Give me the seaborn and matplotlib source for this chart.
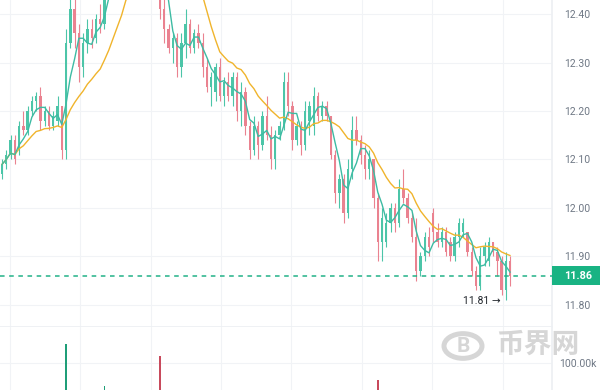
import matplotlib
matplotlib.use("Agg")
import matplotlib.pyplot as plt
import matplotlib.transforms as mtransforms
from matplotlib.patches import Rectangle, Circle
import numpy as np
import pandas as pd
import seaborn as sns

# OHLC per candle (the part above 12.43 is outside the visible window)
opens = [12.07, 12.09, 12.11, 12.14, 12.12, 12.17, 12.16, 12.20, 12.22, 12.23,
         12.18, 12.20, 12.17, 12.18, 12.21, 12.12, 12.34, 12.41, 12.36, 12.29,
         12.34, 12.37, 12.35, 12.39, 12.38, 12.46, 12.50, 12.53, 12.55, 12.57,
         12.58, 12.62, 12.66, 12.70, 12.72, 12.74, 12.70, 12.60, 12.41, 12.37,
         12.33, 12.35, 12.29, 12.34, 12.38, 12.33, 12.36, 12.34, 12.29, 12.25,
         12.24, 12.29, 12.23, 12.26, 12.23, 12.27, 12.20, 12.24, 12.17, 12.12,
         12.17, 12.13, 12.19, 12.15, 12.10, 12.15, 12.17, 12.26, 12.21, 12.14,
         12.17, 12.13, 12.18, 12.17, 12.23, 12.19, 12.21, 12.19, 12.11, 12.03,
         12.06, 11.99, 12.08, 12.16, 12.14, 12.11, 12.08, 12.10, 12.02, 11.93,
         11.93, 11.97, 12.00, 11.97, 12.04, 12.02, 11.98, 11.94, 11.87, 11.90,
         11.94, 11.99, 11.95, 11.93, 11.95, 11.93, 11.90, 11.94, 11.95, 11.95,
         11.91, 11.87, 11.84, 11.90, 11.89, 11.93, 11.91, 11.89, 11.83, 11.89]
highs = [12.10, 12.12, 12.15, 12.15, 12.18, 12.20, 12.21, 12.23, 12.24, 12.25,
         12.21, 12.21, 12.20, 12.23, 12.21, 12.37, 12.44, 12.45, 12.38, 12.36,
         12.39, 12.39, 12.40, 12.42, 12.48, 12.53, 12.56, 12.58, 12.60, 12.61,
         12.65, 12.69, 12.73, 12.75, 12.78, 12.76, 12.71, 12.62, 12.43, 12.38,
         12.36, 12.36, 12.36, 12.41, 12.39, 12.37, 12.38, 12.36, 12.31, 12.28,
         12.30, 12.31, 12.27, 12.28, 12.28, 12.28, 12.26, 12.25, 12.18, 12.19,
         12.18, 12.20, 12.23, 12.17, 12.16, 12.18, 12.28, 12.28, 12.22, 12.18,
         12.18, 12.22, 12.22, 12.25, 12.24, 12.22, 12.22, 12.19, 12.12, 12.07,
         12.07, 12.10, 12.19, 12.19, 12.15, 12.13, 12.12, 12.10, 12.03, 12.00,
         11.99, 12.01, 12.01, 12.06, 12.08, 12.03, 11.99, 11.98, 11.91, 11.95,
         11.96, 12.00, 11.97, 11.96, 11.96, 11.94, 11.95, 11.98, 11.98, 11.95,
         11.92, 11.88, 11.92, 11.93, 11.94, 11.93, 11.92, 11.90, 11.91, 11.90]
lows = [12.06, 12.08, 12.10, 12.09, 12.11, 12.15, 12.15, 12.19, 12.20, 12.16,
        12.17, 12.16, 12.16, 12.17, 12.10, 12.10, 12.33, 12.33, 12.26, 12.27,
        12.32, 12.33, 12.34, 12.36, 12.37, 12.45, 12.48, 12.50, 12.52, 12.54,
        12.56, 12.60, 12.64, 12.67, 12.70, 12.66, 12.57, 12.39, 12.34, 12.32,
        12.30, 12.27, 12.27, 12.31, 12.32, 12.32, 12.33, 12.27, 12.24, 12.21,
        12.22, 12.22, 12.21, 12.22, 12.21, 12.18, 12.17, 12.15, 12.10, 12.11,
        12.10, 12.12, 12.14, 12.08, 12.08, 12.14, 12.16, 12.19, 12.12, 12.13,
        12.11, 12.12, 12.15, 12.15, 12.18, 12.18, 12.18, 12.10, 12.01, 12.00,
        11.97, 11.98, 12.06, 12.13, 12.09, 12.06, 12.06, 12.00, 11.89, 11.89,
        11.92, 11.95, 11.95, 11.96, 12.01, 11.97, 11.93, 11.85, 11.86, 11.89,
        11.90, 11.93, 11.92, 11.92, 11.90, 11.89, 11.89, 11.92, 11.94, 11.90,
        11.86, 11.83, 11.83, 11.88, 11.88, 11.90, 11.86, 11.82, 11.81, 11.84]
closes = [12.09, 12.11, 12.14, 12.10, 12.17, 12.16, 12.20, 12.22, 12.23, 12.18,
          12.20, 12.17, 12.19, 12.21, 12.12, 12.34, 12.41, 12.36, 12.29, 12.34,
          12.37, 12.35, 12.39, 12.38, 12.46, 12.50, 12.53, 12.55, 12.57, 12.58,
          12.62, 12.66, 12.70, 12.72, 12.74, 12.70, 12.60, 12.41, 12.37, 12.33,
          12.35, 12.29, 12.34, 12.38, 12.33, 12.36, 12.34, 12.29, 12.25, 12.27,
          12.29, 12.23, 12.26, 12.23, 12.27, 12.20, 12.24, 12.17, 12.12, 12.17,
          12.13, 12.19, 12.15, 12.10, 12.15, 12.17, 12.26, 12.21, 12.14, 12.17,
          12.13, 12.20, 12.21, 12.23, 12.19, 12.21, 12.19, 12.11, 12.03, 12.06,
          11.99, 12.08, 12.16, 12.14, 12.11, 12.08, 12.10, 12.02, 11.93, 11.98,
          11.97, 12.00, 11.97, 12.04, 12.02, 11.98, 11.94, 11.87, 11.90, 11.94,
          11.92, 11.95, 11.93, 11.95, 11.91, 11.90, 11.94, 11.97, 11.97, 11.91,
          11.87, 11.84, 11.90, 11.92, 11.93, 11.91, 11.89, 11.83, 11.89, 11.86]
volumes = [500, 450, 400, 550, 480, 420, 520, 440, 460, 560,
           400, 480, 420, 500, 600, 170000, 650, 580, 600, 460,
           440, 420, 480, 520, 15000, 500, 460, 540, 480, 500,
           440, 520, 560, 500, 460, 580, 640, 126000, 660, 540,
           460, 500, 480, 520, 440, 420, 460, 500, 540, 480,
           440, 500, 420, 460, 480, 520, 440, 500, 580, 460,
           480, 420, 500, 540, 460, 440, 560, 500, 520, 420,
           460, 480, 440, 540, 460, 420, 480, 580, 620, 500,
           600, 520, 560, 460, 480, 500, 440, 600, 37000, 640,
           500, 460, 480, 520, 540, 480, 500, 640, 560, 460,
           440, 500, 420, 460, 480, 500, 460, 520, 440, 480,
           540, 600, 560, 460, 480, 440, 500, 600, 640, 520]
price_ticks = [11.80, 11.90, 12.00, 12.10, 12.20, 12.30, 12.40]
last_price = 11.86

df = pd.DataFrame({"open": opens, "high": highs, "low": lows,
                   "close": closes, "volume": volumes})
df["idx"] = np.arange(len(df))
df["ma_fast"] = df["close"].rolling(4, min_periods=1).mean()
df["ma_slow"] = df["close"].rolling(15, min_periods=1).mean()
up = df["close"] >= df["open"]

GREEN = "#4cc5a8"
RED = "#ea8290"
GREEN_DARK = "#1f9e78"
RED_DARK = "#c84a5c"
TEXT = "#6f7885"
GRID = "#f1f3f6"

sns.set_theme(style="white")
plt.rcParams["font.family"] = ["Roboto", "DejaVu Sans"]

fig = plt.figure(figsize=(6, 3.9), dpi=100)
ax = fig.add_axes([0, 63 / 390, 552 / 600, 327 / 390])
axv = fig.add_axes([0, 0, 552 / 600, 63 / 390])

xlim = (-0.47, 128.8)
for a in (ax, axv):
    a.set_xlim(*xlim)
    a.set_xticks(np.arange(1.78, 128, 16.5))
    a.tick_params(axis="x", length=0, labelbottom=False)
    a.grid(True, color=GRID, linewidth=0.8)
    a.set_axisbelow(True)
    for s in ("top", "left"):
        a.spines[s].set_visible(False)
    a.spines["right"].set_color("#edf0f3")
    a.spines["bottom"].set_color("#edf0f3")
    a.set_facecolor("white")

# price pane
ax.set_ylim(11.7546, 12.4289)
ax.set_yticks(price_ticks)
ax.yaxis.tick_right()
ax.tick_params(axis="y", length=0, pad=9, labelsize=7.5, labelcolor=TEXT)
ax.set_yticklabels([f"{t:.2f}" for t in price_ticks])

colors = np.where(up, GREEN, RED)
ax.vlines(df["idx"], df["low"], df["high"], colors=colors, linewidth=0.8, zorder=2)
body_bottom = np.minimum(df["open"], df["close"])
body_h = np.maximum(np.abs(df["close"] - df["open"]), 0.003)
ax.bar(df["idx"], body_h, bottom=body_bottom, width=0.55, color=colors,
       linewidth=0, zorder=3)

sns.lineplot(data=df, x="idx", y="ma_slow", ax=ax, color="#f0b42c",
             linewidth=1.0, zorder=4)
sns.lineplot(data=df, x="idx", y="ma_fast", ax=ax, color="#3dbba3",
             linewidth=1.0, zorder=4)
ax.set_xlabel("")
ax.set_ylabel("")

ax.axhline(last_price, color="#22b288", linewidth=1.1, linestyle=(0, (3, 3)),
           zorder=5)

# last price tag on the axis
blend = mtransforms.blended_transform_factory(fig.transFigure, ax.transData)
ax.add_patch(Rectangle((552 / 600, last_price - 0.0196), 48 / 600, 0.0392,
                       transform=blend, facecolor="#19b383", edgecolor="none",
                       clip_on=False, zorder=6))
ax.text(578 / 600, last_price, f"{last_price:.2f}", transform=blend,
        ha="center", va="center", color="white", fontsize=7.8,
        fontweight="bold", zorder=7)

# lowest price marker
i_low = int(np.argmin(lows))
ax.text(i_low - 1.3, lows[i_low] - 0.002, f"{lows[i_low]:.2f} →", ha="right",
        va="center", fontsize=7.5, color="#1e2329", zorder=7)

# volume pane
axv.set_ylim(0, 233000)
axv.set_yticks([100000])
axv.yaxis.tick_right()
axv.tick_params(axis="y", length=0, pad=5, labelsize=7.5, labelcolor=TEXT)
axv.set_yticklabels(["100.00k"])
axv.spines["bottom"].set_visible(False)
axv.bar(df["idx"], df["volume"], width=0.45,
        color=np.where(up, GREEN_DARK, RED_DARK), linewidth=0, zorder=3)

# watermark
fig.patches.append(Circle((463 / 600, 1 - 346 / 390), 19 / 600,
                          transform=fig.transFigure, fill=False,
                          edgecolor="#cfcfcf", linewidth=3.6, alpha=0.85,
                          zorder=10))
fig.text(463 / 600, 1 - 346 / 390, "B", ha="center", va="center",
         fontsize=15, fontweight="bold", color="#cfcfcf", alpha=0.85,
         zorder=10)
fig.text(538 / 600, 1 - 345 / 390, "币界网", ha="center", va="center",
         fontsize=20, fontweight="bold", color="#cfcfcf", alpha=0.85,
         family=["Noto Sans CJK SC", "DejaVu Sans"], zorder=10)

fig.savefig("out.png", dpi=100)
